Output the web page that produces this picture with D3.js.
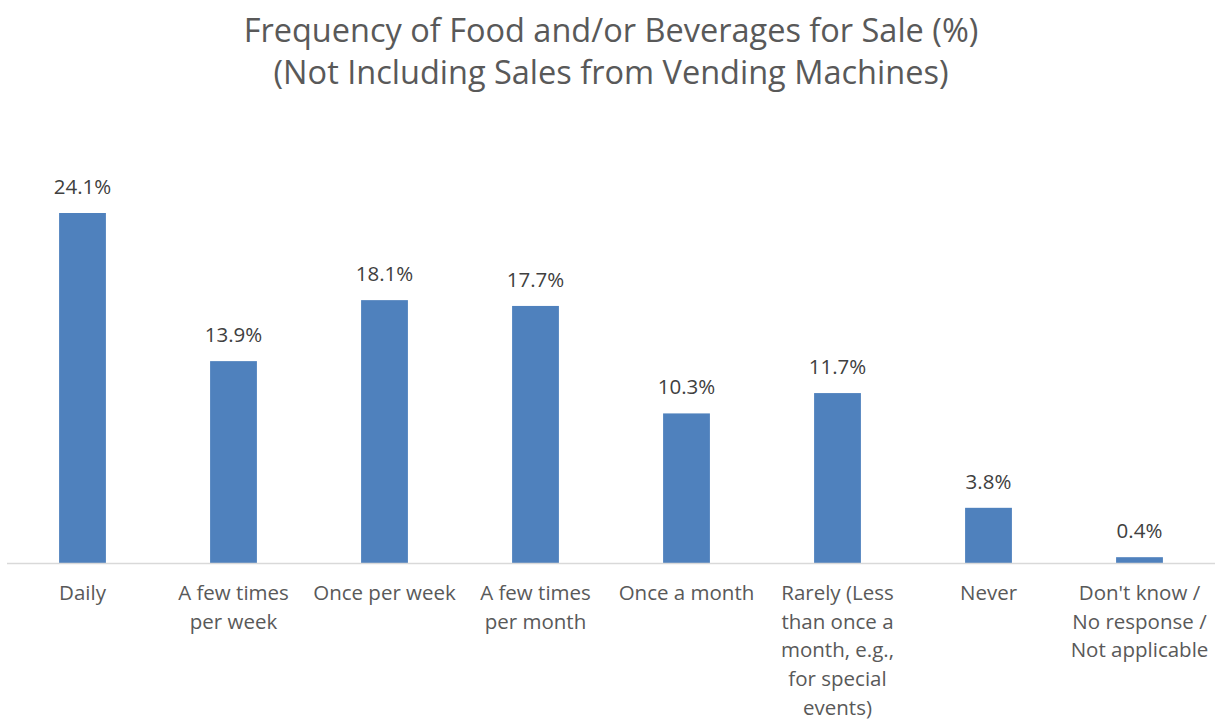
<!DOCTYPE html>
<html>
<head>
<meta charset="utf-8">
<script src="https://cdn.jsdelivr.net/npm/d3@7"></script>
<style>
  body { margin: 0; background: #fff; }
  svg { display: block; font-family: "Open Sans", Lato, sans-serif; }
</style>
</head>
<body>
<svg id="chart" width="1217" height="723"></svg>
<script>
var titleLines = ["Frequency of Food and/or Beverages for Sale (%)",
                  "(Not Including Sales from Vending Machines)"];
var categories = ["Daily", "A few times\nper week", "Once per week", "A few times\nper month",
                  "Once a month", "Rarely (Less\nthan once a\nmonth, e.g.,\nfor special\nevents)",
                  "Never", "Don't know /\nNo response /\nNot applicable"];
var values = [24.1, 13.9, 18.1, 17.7, 10.3, 11.7, 3.8, 0.4];

var svg = d3.select("#chart"),
    left = 7, right = 1215, baseY = 563;

var x = d3.scaleBand()
    .domain(categories)
    .range([left, right])
    .paddingInner(0.69)
    .paddingOuter(0.345);

var y = d3.scaleLinear()
    .domain([0, 24.1])
    .range([baseY, 213]);

// title
svg.append("g").selectAll("text")
    .data(titleLines)
    .enter().append("text")
    .attr("x", 611)
    .attr("y", function (d, i) { return 42 + i * 42; })
    .attr("text-anchor", "middle")
    .style("font-size", "32.5px")
    .style("fill", "#595959")
    .text(function (d) { return d; });

// bars
svg.append("g").selectAll("rect")
    .data(values)
    .enter().append("rect")
    .attr("x", function (d, i) { return x(categories[i]); })
    .attr("width", x.bandwidth())
    .attr("y", function (d) { return y(d); })
    .attr("height", function (d) { return y(0) - y(d); })
    .style("fill", "#4F81BD");

// axis line
svg.append("line")
    .attr("x1", left).attr("x2", right)
    .attr("y1", baseY + 0.5).attr("y2", baseY + 0.5)
    .style("stroke", "#D9D9D9")
    .style("stroke-width", 1.5);

// value labels
svg.append("g").selectAll("text")
    .data(values)
    .enter().append("text")
    .attr("x", function (d, i) { return x(categories[i]) + x.bandwidth() / 2; })
    .attr("y", function (d) { return y(d) - 19; })
    .attr("text-anchor", "middle")
    .style("font-size", "20.5px")
    .style("fill", "#404040")
    .text(function (d) { return d.toFixed(1) + "%"; });

// category labels
var cat = svg.append("g").selectAll("text")
    .data(categories)
    .enter().append("text")
    .attr("x", function (d) { return x(d) + x.bandwidth() / 2; })
    .attr("y", 600)
    .attr("text-anchor", "middle")
    .style("font-size", "20.5px")
    .style("fill", "#595959");

cat.selectAll("tspan")
    .data(function (d) { return d.split("\n"); })
    .enter().append("tspan")
    .attr("x", function () { return d3.select(this.parentNode).attr("x"); })
    .attr("dy", function (d, i) { return i === 0 ? 0 : 28.7; })
    .text(function (d) { return d; });
</script>
</body>
</html>
